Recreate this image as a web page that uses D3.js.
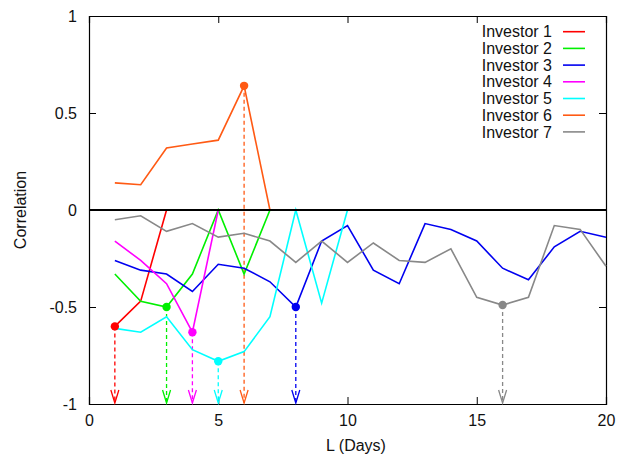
<!DOCTYPE html>
<html lang="en">
<head>
  <meta charset="UTF-8"/>
  <script src="https://d3js.org/d3.v7.min.js"></script>
  <style>
body { margin: 0; background: #fff; font-family: 'Liberation Sans', Arial, sans-serif; }
svg { display: block; }
text { font-size: 16px; fill: #111; }
.series { fill: none; stroke-width: 1.6; }
.guide { fill: none; stroke-width: 1.3; stroke-dasharray: 4,3; }
  </style>
</head>
<body>
<svg width="633" height="455"></svg>
<script>

  const days = d3.range(1, 21)
  const names = ['Investor 1','Investor 2','Investor 3','Investor 4','Investor 5','Investor 6','Investor 7']
  const colors = ['#ff0000','#00f000','#0000f0','#ff00ff','#00ffff','#ff5a14','#888888']

  // correlation per lag
  const inv1 = [-0.60, -0.47, 0]
  const inv2 = [-0.33, -0.47, -0.50, -0.33, 0, -0.33, 0]
  const inv3 = [-0.26, -0.31, -0.33, -0.42, -0.28, -0.30, -0.37, -0.50, -0.16, -0.08,
                -0.31, -0.38, -0.07, -0.10, -0.16, -0.30, -0.36, -0.19, -0.11, -0.14]
  const inv4 = [-0.16, -0.26, -0.38, -0.63, 0]
  const inv5 = [-0.61, -0.63, -0.55, -0.72, -0.78, -0.73, -0.55, 0, -0.48, 0]
  const inv6 = [0.14, 0.13, 0.32, 0.34, 0.36, 0.64, 0]
  const inv7 = [-0.05, -0.03, -0.11, -0.07, -0.14, -0.12, -0.16, -0.27, -0.16, -0.27,
                -0.17, -0.26, -0.27, -0.20, -0.45, -0.49, -0.45, -0.08, -0.10, -0.29]
  const allSeries = [inv1, inv2, inv3, inv4, inv5, inv6, inv7]

  // marked lag for each investor (extreme point)
  const marked = [1, 3, 8, 4, 5, 6, 16]

  const xTicks = [0, 5, 10, 15, 20]
  const yTicks = [-1, -0.5, 0, 0.5, 1]

  const margin = {left: 89, right: 27, top: 16, bottom: 51}
  const width = 633 - margin.left - margin.right
  const height = 455 - margin.top - margin.bottom

  const svg = d3.select('svg')
  const chart = svg.append('g')
    .attr('transform', `translate(${margin.left},${margin.top})`)

  const x = d3.scaleLinear().domain([0, 20]).range([0, width])
  const y = d3.scaleLinear().domain([-1, 1]).range([height, 0])

  // axes, gnuplot style: ticks inside, mirrored
  const fmt = d => String(d)
  const tick = 7
  chart.append('g').attr('transform', `translate(0,${height})`)
    .call(d3.axisBottom(x).tickValues(xTicks).tickSize(-tick).tickPadding(11).tickFormat(fmt))
  chart.append('g')
    .call(d3.axisTop(x).tickValues(xTicks).tickSize(-tick).tickFormat(''))
  chart.append('g')
    .call(d3.axisLeft(y).tickValues(yTicks).tickSize(-tick).tickPadding(12).tickFormat(fmt))
  chart.append('g').attr('transform', `translate(${width},0)`)
    .call(d3.axisRight(y).tickValues(yTicks).tickSize(-tick).tickFormat(''))

  chart.selectAll('.domain').attr('stroke', '#000').attr('stroke-width', 1.2)
  chart.selectAll('.tick line').attr('stroke', '#000').attr('stroke-width', 1)
  chart.selectAll('.tick text').style('font-size', '16px').attr('fill', '#111')

  const line = d3.line()
    .defined(d => d.v != null)
    .x(d => x(d.day))
    .y(d => y(d.v))

  // dashed guide arrows from marked point down to the axis
  allSeries.forEach((s, i) => {
    const day = marked[i]
    const v = s[day - 1]
    const col = colors[i]
    chart.append('line')
      .attr('class', 'guide')
      .attr('stroke', col)
      .attr('x1', x(day)).attr('x2', x(day))
      .attr('y1', y(v)).attr('y2', y(-1) - 1)
    chart.append('path')
      .attr('fill', 'none')
      .attr('stroke', col)
      .attr('stroke-width', 1.3)
      .attr('d', `M${x(day) - 4},${y(-1) - 14}L${x(day)},${y(-1) - 1}L${x(day) + 4},${y(-1) - 14}`)
  })

  allSeries.forEach((s, i) => {
    const pts = s.map((v, j) => ({day: days[j], v: v}))
    chart.append('path')
      .datum(pts)
      .attr('class', 'series')
      .attr('stroke', colors[i])
      .attr('d', line)
  })

  allSeries.forEach((s, i) => {
    const day = marked[i]
    chart.append('circle')
      .attr('cx', x(day))
      .attr('cy', y(s[day - 1]))
      .attr('r', 4.2)
      .attr('fill', colors[i])
  })

  // zero line
  chart.append('line')
    .attr('x1', x(0)).attr('x2', x(20))
    .attr('y1', y(0)).attr('y2', y(0))
    .attr('stroke', '#000').attr('stroke-width', 2)

  // legend
  const legend = chart.append('g')
  names.forEach((n, i) => {
    const ly = 15.7 + i * 16.7
    legend.append('text')
      .attr('x', 552 - margin.left)
      .attr('y', ly)
      .attr('dy', '0.35em')
      .attr('text-anchor', 'end')
      .text(n)
    legend.append('line')
      .attr('x1', 563 - margin.left).attr('x2', 585 - margin.left)
      .attr('y1', ly).attr('y2', ly)
      .attr('stroke', colors[i]).attr('stroke-width', 1.6)
  })

  // axis titles
  chart.append('text')
    .attr('x', 356 - margin.left)
    .attr('y', height + 47)
    .attr('text-anchor', 'middle')
    .text('L (Days)')

  chart.append('text')
    .attr('transform', 'rotate(-90)')
    .attr('x', -y(0))
    .attr('y', -margin.left + 26)
    .attr('text-anchor', 'middle')
    .text('Correlation')

</script>
</body>
</html>
